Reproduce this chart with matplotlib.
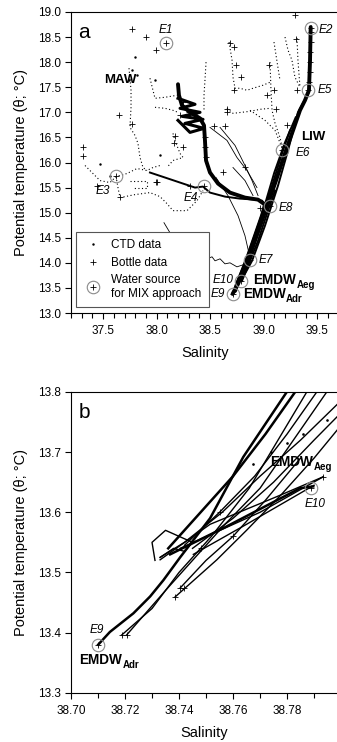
import matplotlib
matplotlib.use("Agg")
import matplotlib.pyplot as plt
from matplotlib.lines import Line2D
from matplotlib.ticker import MultipleLocator, FormatStrFormatter

plt.rcParams['font.family'] = ['Liberation Sans', 'DejaVu Sans']

# ---------------- DATA: panel a ----------------
# thick CTD profiles (salinity, potential temperature)
liw_main_S = [39.44, 39.434, 39.424, 39.387, 39.34, 39.275, 39.209, 39.116, 38.985, 38.854, 38.761, 38.71]
liw_main_T = [18.70, 18.04, 17.44, 17.24, 17.04, 16.64, 16.24, 15.64, 14.84, 14.04, 13.58, 13.38]
liw_b_S = [39.424, 39.321, 39.228, 39.135, 39.013, 38.892, 38.789]
liw_b_T = [17.40, 17.00, 16.24, 15.54, 14.74, 14.04, 13.641]
liw_c_S = [39.247, 39.181, 39.079, 38.948, 38.826, 38.742, 38.714]
liw_c_T = [16.64, 16.24, 15.54, 14.74, 14.00, 13.58, 13.40]
liw_d_S = [39.300, 39.200, 39.100, 38.990, 38.870, 38.770, 38.725]
liw_d_T = [16.90, 16.40, 15.80, 15.00, 14.20, 13.65, 13.42]
e8_S = [39.107, 39.041, 38.948, 38.854, 38.798]
e8_T = [15.44, 15.04, 14.44, 13.94, 13.64]
e8b_S = [39.060, 39.000, 38.920, 38.840, 38.790]
e8b_T = [15.30, 14.96, 14.50, 14.00, 13.66]
mid_S = [38.200, 38.209, 38.237, 38.312, 38.406, 38.443, 38.452, 38.462, 38.499, 38.574, 38.686,
         38.826, 38.948, 39.013, 38.985, 38.920, 38.845, 38.779, 38.733]
mid_T = [17.56, 17.34, 17.14, 17.00, 16.88, 16.74, 16.44, 16.04, 15.80, 15.58, 15.40,
         15.30, 15.26, 15.16, 14.94, 14.54, 14.08, 13.72, 13.44]
e4_S = [37.938, 38.079, 38.219, 38.359, 38.434, 38.499, 38.639, 38.779, 38.920, 38.985, 39.022]
e4_T = [15.80, 15.70, 15.60, 15.50, 15.52, 15.40, 15.32, 15.28, 15.26, 15.24, 15.14]
clu_S = [38.200, 38.359, 38.219, 38.406, 38.237, 38.434, 38.265, 38.443, 38.312, 38.200]
clu_T = [17.28, 17.16, 17.08, 17.00, 16.92, 16.86, 16.78, 16.68, 16.60, 16.84]

# thin solid CTD profiles
wig_S = [38.406, 38.471, 38.518, 38.546, 38.593, 38.639, 38.686, 38.751, 38.807, 38.873]
wig_T = [14.10, 14.08, 14.12, 14.04, 14.08, 13.98, 14.00, 13.92, 13.96, 14.06]
th1_S = [38.555, 38.667, 38.761, 38.826, 38.873]
th1_T = [15.70, 15.34, 14.94, 14.54, 14.10]
th2_S = [38.499, 38.658, 38.751, 38.845, 38.938]
th2_T = [16.70, 16.44, 16.10, 15.84, 15.50]
th3_S = [38.593, 38.733, 38.826, 38.892, 38.948]
th3_T = [16.70, 16.34, 15.94, 15.64, 15.34]
th4_S = [38.714, 38.826, 38.901]
th4_T = [15.90, 15.64, 15.34]
th5_S = [38.069, 38.125]
th5_T = [14.80, 14.60]

# dotted (sparse) CTD profiles
dt_maw_S = [37.742, 37.761, 37.761, 37.751, 37.798, 37.826, 37.845, 37.873, 37.910]
dt_maw_T = [17.88, 17.44, 17.10, 16.70, 16.54, 16.38, 16.10, 15.90, 15.84]
dt_um1_S = [37.938, 37.966, 37.985, 38.079, 38.191]
dt_um1_T = [17.68, 17.44, 17.28, 17.30, 17.34]
dt_um2_S = [37.985, 38.079, 38.153, 38.200]
dt_um2_T = [17.10, 17.08, 17.04, 17.00]
dt_col_S = [38.462, 38.452, 38.443, 38.443]
dt_col_T = [18.00, 17.64, 17.34, 17.04]
dt_e3_S = [37.331, 37.396, 37.471, 37.564, 37.621, 37.723, 37.817, 37.910, 37.966, 38.032]
dt_e3_T = [15.94, 15.80, 15.64, 15.60, 15.72, 15.78, 15.88, 15.84, 15.90, 15.94]
dt_e3d_S = [37.621, 37.639, 37.658]
dt_e3d_T = [15.72, 15.50, 15.30]
dt_low_S = [37.658, 37.798, 37.938, 38.032, 38.097, 38.153, 38.284, 38.378, 38.434]
dt_low_T = [15.30, 15.36, 15.40, 15.32, 15.18, 15.04, 15.04, 15.24, 15.44]
dt_sq_S = [37.751, 37.910, 37.910, 37.770]
dt_sq_T = [15.64, 15.64, 15.50, 15.50]
dt_ur1_S = [38.677, 38.705, 38.714, 38.733, 38.779, 38.845, 38.901, 38.994, 39.060]
dt_ur1_T = [18.40, 18.04, 17.70, 17.48, 17.48, 17.44, 17.48, 17.54, 17.60]
dt_ur2_S = [38.658, 38.714, 38.873, 38.966, 39.060]
dt_ur2_T = [17.08, 16.98, 17.02, 17.06, 17.08]
dt_ur3_S = [39.060, 39.069, 39.079, 39.107, 39.153, 39.181]
dt_ur3_T = [18.00, 17.44, 17.04, 16.78, 16.50, 16.24]
dt_ur4_S = [39.200, 39.228, 39.265, 39.293, 39.340]
dt_ur4_T = [18.50, 18.24, 18.04, 17.70, 17.50]
dt_ur5_S = [39.312, 39.321, 39.340]
dt_ur5_T = [18.48, 18.04, 17.50]
dt_ur6_S = [39.097, 39.116, 39.135, 39.153]
dt_ur6_T = [18.40, 18.14, 17.88, 17.64]
dt_ur7_S = [38.873, 39.013, 39.107, 39.181]
dt_ur7_T = [17.04, 16.84, 16.64, 16.24]
dt_m3_S = [38.153, 38.172, 38.219, 38.247, 38.153, 38.097]
dt_m3_T = [16.58, 16.44, 16.18, 16.10, 16.04, 15.90]
dots_S = [37.817, 37.770, 37.798, 37.985, 37.742, 38.032, 37.564, 37.471]
dots_T = [17.74, 17.84, 18.10, 17.64, 17.64, 16.14, 15.74, 15.98]

# bottle data
bot_S = [37.767, 37.90, 37.994, 37.651, 37.315, 37.315, 37.767, 38.172, 38.165, 38.25, 37.994,
         39.293, 38.686, 38.723, 38.742, 39.053, 38.655, 38.655, 38.536, 38.64, 38.789, 38.72,
         39.10, 39.30, 39.31, 38.826, 38.31, 37.44, 37.658, 38.007, 39.03, 39.116, 39.216, 38.62,
         39.44, 39.44, 39.435, 39.43, 39.43, 39.425, 38.25, 38.30, 38.38, 38.22, 38.45, 38.45,
         38.46, 38.97, 39.00, 38.87]
bot_T = [18.67, 18.51, 18.25, 16.95, 16.31, 16.13, 16.77, 16.52, 16.39, 16.31, 15.61,
         18.94, 18.39, 18.31, 17.94, 17.94, 17.07, 17.01, 16.72, 16.72, 17.71, 17.44,
         17.45, 18.47, 17.44, 15.91, 15.54, 15.54, 15.31, 15.61, 17.34, 17.07, 16.74, 15.81,
         18.60, 18.40, 18.20, 18.00, 17.80, 17.60, 17.20, 17.00, 16.90, 16.95, 16.50, 16.30,
         16.10, 15.10, 15.00, 14.10]

# water sources for MIX approach
ws_names = ['E1', 'E2', 'E3', 'E4', 'E5', 'E6', 'E7', 'E8', 'E9', 'E10']
ws_S = [38.085, 39.44, 37.62, 38.44, 39.418, 39.17, 38.873, 39.06, 38.710, 38.789]
ws_T = [18.39, 18.69, 15.73, 15.54, 17.44, 16.24, 14.06, 15.14, 13.380, 13.641]

# ---------------- DATA: panel b ----------------
b_u1_S = [38.7101, 38.7144, 38.7231, 38.7293, 38.7342, 38.7404, 38.7515, 38.7638, 38.7799]
b_u1_T = [13.380, 13.401, 13.432, 13.460, 13.487, 13.525, 13.590, 13.692, 13.800]
b_u2_S = [38.7188, 38.7300, 38.7400, 38.7520, 38.7660, 38.7873]
b_u2_T = [13.396, 13.440, 13.500, 13.560, 13.640, 13.800]
b_u3_S = [38.7206, 38.7350, 38.7450, 38.7570, 38.7700, 38.7947]
b_u3_T = [13.396, 13.470, 13.520, 13.580, 13.640, 13.800]
b_u4_S = [38.7330, 38.7420, 38.7560, 38.7700, 38.7850, 38.8010]
b_u4_T = [13.525, 13.550, 13.600, 13.660, 13.720, 13.790]
b_u5_S = [38.7385, 38.7540, 38.7650, 38.7780, 38.7900, 38.8010]
b_u5_T = [13.459, 13.521, 13.570, 13.630, 13.690, 13.750]
b_u6_S = [38.7404, 38.7500, 38.7600, 38.7720, 38.7850]
b_u6_T = [13.474, 13.520, 13.560, 13.620, 13.690]
b_u7_S = [38.7360, 38.7480, 38.7600, 38.7720, 38.7830]
b_u7_T = [13.540, 13.600, 13.660, 13.730, 13.800]
b_u8_S = [38.7420, 38.7550, 38.7680, 38.7800, 38.7910]
b_u8_T = [13.545, 13.600, 13.660, 13.730, 13.800]
b_u9_S = [38.7450, 38.7600, 38.7750, 38.7900, 38.8010]
b_u9_T = [13.540, 13.590, 13.650, 13.720, 13.770]
b_l1_S = [38.7330, 38.7515, 38.7762, 38.7934]
b_l1_T = [13.521, 13.580, 13.626, 13.659]
b_l2_S = [38.7367, 38.7570, 38.7848, 38.7897]
b_l2_T = [13.530, 13.575, 13.640, 13.643]
b_l3_S = [38.7404, 38.7700, 38.7934]
b_l3_T = [13.540, 13.600, 13.659]
b_l4_S = [38.7453, 38.7650, 38.7900]
b_l4_T = [13.530, 13.580, 13.645]
b_loop_S = [38.7311, 38.7300, 38.7350, 38.7400, 38.7450, 38.7420, 38.7380, 38.7330]
b_loop_T = [13.520, 13.550, 13.570, 13.560, 13.550, 13.535, 13.540, 13.525]
b_dot_S = [38.7675, 38.7740, 38.7800, 38.7860, 38.7947]
b_dot_T = [13.681, 13.700, 13.715, 13.730, 13.753]
b_bot_S = [38.7188, 38.7206, 38.7385, 38.7404, 38.7420, 38.7934, 38.7550, 38.7600, 38.7480]
b_bot_T = [13.396, 13.396, 13.459, 13.474, 13.474, 13.659, 13.600, 13.560, 13.540]
b_ws = ['E9', 'E10']

# ---------------- FIGURE ----------------
fig = plt.figure(figsize=(3.37, 7.42), dpi=100)
axa = fig.add_axes([71 / 337, (742 - 313) / 742, 267.5 / 337, 301 / 742])
axb = fig.add_axes([71 / 337, (742 - 692.7) / 742, 266 / 337, 300.7 / 742])

thick = dict(color='k', lw=2.8, solid_capstyle='round', solid_joinstyle='round')
med = dict(color='k', lw=1.4)
thin = dict(color='k', lw=0.6)
dotted = dict(color='k', lw=0.8, ls=(0, (1, 2.2)))
bottle = dict(ls='none', marker='+', ms=4.5, mew=0.6, color='k')
circ = dict(ls='none', marker='o', ms=9, mfc='none', mec='#8a8a8a', mew=0.8)


def emdw(ax, x, y, sub):
    main = ax.text(x, y, 'EMDW', fontsize=9.8, fontweight='bold', ha='left', va='baseline')
    ax.annotate(sub, xy=(1, 0), xycoords=main, xytext=(0.3, -0.8), textcoords='offset points',
                fontsize=7, fontweight='bold', ha='left', va='baseline')


# panel a
for S, T in [(liw_main_S, liw_main_T), (mid_S, mid_T)]:
    axa.plot(S, T, **thick)
for S, T in [(liw_b_S, liw_b_T), (liw_c_S, liw_c_T), (liw_d_S, liw_d_T), (e8_S, e8_T),
             (e8b_S, e8b_T), (e4_S, e4_T)]:
    axa.plot(S, T, **med)
axa.plot(clu_S, clu_T, color='k', lw=2.2)
for S, T in [(wig_S, wig_T), (th1_S, th1_T), (th2_S, th2_T), (th3_S, th3_T), (th4_S, th4_T), (th5_S, th5_T)]:
    axa.plot(S, T, **thin)
for S, T in [(dt_maw_S, dt_maw_T), (dt_um1_S, dt_um1_T), (dt_um2_S, dt_um2_T), (dt_col_S, dt_col_T),
             (dt_e3_S, dt_e3_T), (dt_e3d_S, dt_e3d_T), (dt_low_S, dt_low_T), (dt_sq_S, dt_sq_T),
             (dt_ur1_S, dt_ur1_T), (dt_ur2_S, dt_ur2_T), (dt_ur3_S, dt_ur3_T), (dt_ur4_S, dt_ur4_T),
             (dt_ur5_S, dt_ur5_T), (dt_ur6_S, dt_ur6_T), (dt_ur7_S, dt_ur7_T), (dt_m3_S, dt_m3_T)]:
    axa.plot(S, T, **dotted)
axa.plot(dots_S, dots_T, ls='none', marker='.', ms=1.5, color='k')
axa.plot(bot_S, bot_T, **bottle)
axa.plot(ws_S, ws_T, **circ)
axa.plot(ws_S, ws_T, **bottle)

offs = {'E1': (0, 13, 'center'), 'E2': (8, -2, 'left'), 'E3': (-13, -15, 'center'),
        'E4': (-13, -12, 'center'), 'E5': (9, 0, 'left'), 'E6': (14, -3, 'left'),
        'E7': (9, 0, 'left'), 'E8': (9, -2, 'left'), 'E9': (-8, 0, 'right'), 'E10': (-8, 1, 'right')}
for n, s, t in zip(ws_names, ws_S, ws_T):
    dx, dy, ha = offs[n]
    axa.annotate(n, (s, t), xytext=(dx, dy), textcoords='offset pixels', ha=ha, va='center',
                 fontsize=8.5, fontstyle='italic')

axa.text(37.658, 17.646, 'MAW', fontsize=9.5, fontweight='bold', ha='center', va='center')
axa.text(39.462, 16.506, 'LIW', fontsize=9.5, fontweight='bold', ha='center', va='center')
emdw(axa, 38.904, 13.58, 'Aeg')
emdw(axa, 38.805, 13.306, 'Adr')
axa.text(0.049, 0.931, 'a', transform=axa.transAxes, fontsize=15, ha='center', va='center')

h_ctd = Line2D([], [], ls='none', marker='.', ms=1.5, color='k')
h_bot = Line2D([], [], **bottle)
h_ws = (Line2D([], [], **circ), Line2D([], [], **bottle))
leg = axa.legend([h_ctd, h_bot, h_ws], ['CTD data', 'Bottle data', 'Water source\nfor MIX approach'],
                 loc='lower left', bbox_to_anchor=(0.019, 0.02), borderaxespad=0, fontsize=8.5,
                 fancybox=False, framealpha=1, edgecolor='#555555', handlelength=1.6,
                 handletextpad=0.8, labelspacing=0.45, borderpad=0.6)
leg.get_frame().set_linewidth(0.8)

axa.set_xlim(37.2, 39.7)
axa.set_ylim(13.0, 19.0)
axa.xaxis.set_major_locator(MultipleLocator(0.5))
axa.xaxis.set_minor_locator(MultipleLocator(0.1))
axa.yaxis.set_major_locator(MultipleLocator(0.5))
axa.xaxis.set_major_formatter(FormatStrFormatter('%.1f'))
axa.yaxis.set_major_formatter(FormatStrFormatter('%.1f'))

# panel b
for S, T in [(b_u1_S, b_u1_T), (b_l2_S, b_l2_T), (b_u7_S, b_u7_T)]:
    axb.plot(S, T, color='k', lw=1.8)
for S, T in [(b_u2_S, b_u2_T), (b_u3_S, b_u3_T), (b_u4_S, b_u4_T), (b_u5_S, b_u5_T), (b_u6_S, b_u6_T),
             (b_u8_S, b_u8_T), (b_u9_S, b_u9_T),
             (b_l1_S, b_l1_T), (b_l3_S, b_l3_T), (b_l4_S, b_l4_T), (b_loop_S, b_loop_T)]:
    axb.plot(S, T, color='k', lw=1.0)
axb.plot(b_dot_S, b_dot_T, ls='none', marker='.', ms=1.8, color='k')
axb.plot(b_bot_S, b_bot_T, **bottle)
bS = [ws_S[ws_names.index(n)] for n in b_ws]
bT = [ws_T[ws_names.index(n)] for n in b_ws]
axb.plot(bS, bT, **circ)
axb.plot(bS, bT, **bottle)
axb.annotate('E9', (bS[0], bT[0]), xytext=(-1, 15), textcoords='offset pixels', ha='center',
             va='center', fontsize=8.5, fontstyle='italic')
axb.annotate('E10', (bS[1], bT[1]), xytext=(4, -16), textcoords='offset pixels', ha='center',
             va='center', fontsize=8.5, fontstyle='italic')
emdw(axb, 38.7737, 13.677, 'Aeg')
emdw(axb, 38.703, 13.348, 'Adr')
axb.text(0.049, 0.933, 'b', transform=axb.transAxes, fontsize=15, ha='center', va='center')

axb.set_xlim(38.70, 38.7985)
axb.set_ylim(13.3, 13.8)
axb.xaxis.set_major_locator(MultipleLocator(0.02))
axb.xaxis.set_minor_locator(MultipleLocator(0.01))
axb.yaxis.set_major_locator(MultipleLocator(0.1))
axb.xaxis.set_major_formatter(FormatStrFormatter('%.2f'))
axb.yaxis.set_major_formatter(FormatStrFormatter('%.1f'))

for ax, w in ((axa, 267.5), (axb, 266.0)):
    ax.tick_params(which='both', direction='out', labelsize=8.5, width=0.8, pad=3)
    ax.tick_params(which='major', length=4)
    ax.tick_params(which='minor', length=3.5)
    ax.tick_params(axis='x', pad=5)
    for sp in ax.spines.values():
        sp.set_linewidth(0.8)
    ax.spines['right'].set_visible(False)
    ax.set_xlabel('Salinity', fontsize=10.5, labelpad=6)
    ax.set_ylabel('Potential temperature (θ; °C)', fontsize=10.5)
    ax.yaxis.set_label_coords(-43 / w, 0.5)

fig.savefig('out.png', dpi=100)
